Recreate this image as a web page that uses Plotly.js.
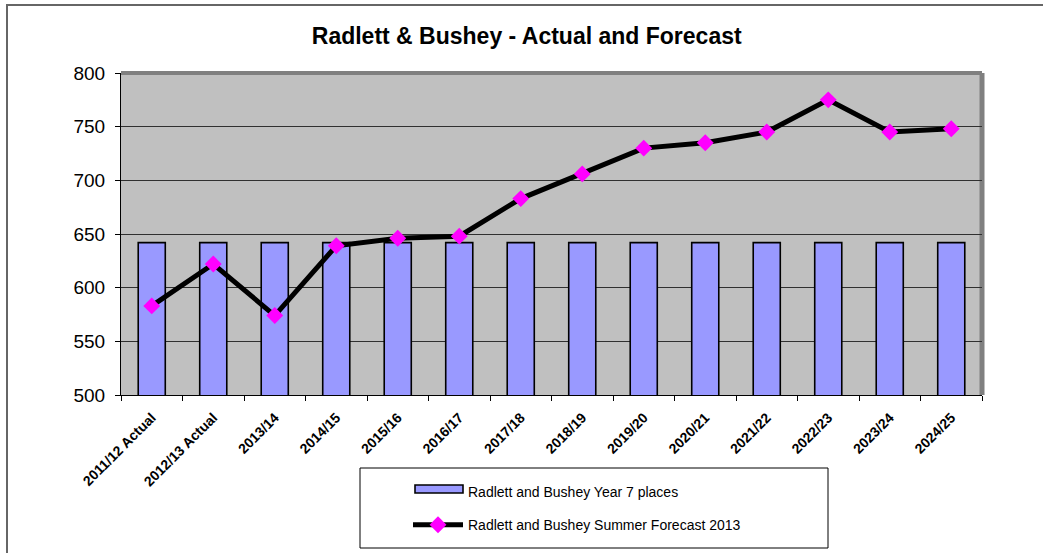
<!DOCTYPE html>
<html>
<head>
<meta charset="utf-8">
<script src="https://cdn.plot.ly/plotly-3.0.1.min.js"></script>
<style>
html,body{margin:0;padding:0;background:#fff;}
#chart{width:1043px;height:553px;}
</style>
</head>
<body>
<div id="chart"></div>
<script>
const categories = ["2011/12 Actual","2012/13 Actual","2013/14","2014/15","2015/16","2016/17","2017/18","2018/19","2019/20","2020/21","2021/22","2022/23","2023/24","2024/25"];
const placesValues = [642,642,642,642,642,642,642,642,642,642,642,642,642,642];
const forecastValues = [583,622,574,639,646,648,683,706,730,735,745,775,745,748];
const seriesNames = ["Radlett and Bushey Year 7 places","Radlett and Bushey Summer Forecast 2013"];
const chartTitle = "Radlett & Bushey - Actual and Forecast";

const W = 1043, H = 553;
const M = {l:121, r:61, t:73, b:158};
const PW = W - M.l - M.r, PH = H - M.t - M.b;
const px = x => (x - M.l) / PW;
const py = y => (H - M.b - y) / PH;

const traces = [
  {
    type:'bar', x:categories, y:placesValues, name:seriesNames[0],
    showlegend:false,
    marker:{color:'#9999FF', line:{color:'#000000', width:1.6}},
    width:0.44, hoverinfo:'y'
  },
  {
    // legend entry for the bar series (its wide symbol is drawn as a shape below)
    type:'scatter', mode:'lines', x:[null], y:[null], name:seriesNames[0],
    legendgroup:'a', line:{color:'rgba(0,0,0,0)', width:1}, hoverinfo:'skip'
  },
  {
    type:'scatter', mode:'lines+markers', x:categories, y:forecastValues, name:seriesNames[1],
    legendgroup:'b',
    line:{color:'#000000', width:5},
    marker:{symbol:'diamond', color:'#FF00FF', size:13}
  }
];

const layout = {
  width:W, height:H,
  margin:M,
  paper_bgcolor:'#ffffff',
  plot_bgcolor:'#C0C0C0',
  font:{family:'"Liberation Sans", Arial, sans-serif', color:'#000'},
  title:{text:'<b>'+chartTitle+'</b>', x:0.505, xanchor:'center', y:1-36/H, yanchor:'middle',
         font:{size:23, family:'"Liberation Sans", Arial, sans-serif'}},
  xaxis:{
    type:'category', tickangle:-45, showgrid:false, showline:true, linecolor:'#000', linewidth:1,
    ticks:'outside', ticklen:5, tickcolor:'#000', tickson:'boundaries',
    tickfont:{size:14, weight:'bold', family:'"Liberation Sans", Arial, sans-serif'},
    ticklabelstandoff:8,
    zeroline:false, range:[-0.5, 13.5]
  },
  yaxis:{
    range:[500,800], dtick:50, showgrid:true, gridcolor:'#303030', gridwidth:1,
    showline:true, linecolor:'#000', linewidth:1, ticks:'outside', ticklen:5, tickcolor:'#000',
    tickfont:{size:19}, zeroline:false, ticklabelstandoff:6
  },
  bargap:0.56,
  showlegend:true,
  legend:{
    x:px(408), y:py(476), xanchor:'left', yanchor:'top',
    bgcolor:'rgba(0,0,0,0)', borderwidth:0,
    traceorder:'grouped', tracegroupgap:12,
    font:{size:14, family:'"Liberation Sans", Arial, sans-serif'},
    itemwidth:50
  },
  shapes:[
    // plot area 3D-ish frame (top and right)
    {type:'line', xref:'paper', yref:'paper', x0:0, x1:1, y0:1, y1:1, line:{color:'#808080', width:4}, layer:'below'},
    {type:'line', xref:'paper', yref:'paper', x0:1, x1:1, y0:0, y1:1, line:{color:'#808080', width:5}, layer:'below'},
    // legend box
    {type:'rect', xref:'paper', yref:'paper', x0:px(360), x1:px(828), y0:py(548), y1:py(468),
     line:{color:'#000', width:1}, fillcolor:'rgba(0,0,0,0)'},
    // legend symbol for the bar series
    {type:'rect', xref:'paper', yref:'paper', x0:px(415), x1:px(463), y0:py(493), y1:py(485),
     line:{color:'#000', width:1.6}, fillcolor:'#9999FF'},
    // outer chart frame
    {type:'rect', xref:'paper', yref:'paper', x0:px(7), x1:px(1060), y0:py(570), y1:py(5),
     line:{color:'#666666', width:2}, fillcolor:'rgba(0,0,0,0)'}
  ]
};

Plotly.newPlot('chart', traces, layout, {displayModeBar:false, staticPlot:true});
</script>
</body>
</html>
